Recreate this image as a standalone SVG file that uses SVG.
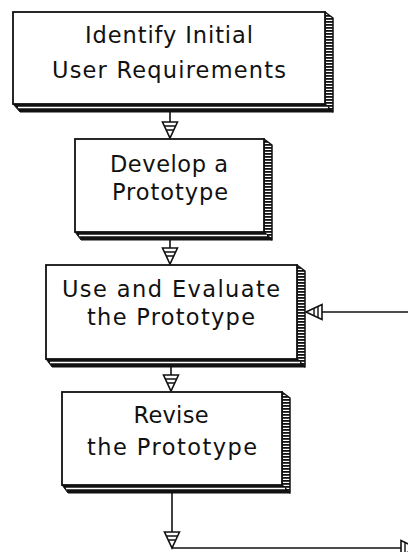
<svg xmlns="http://www.w3.org/2000/svg" width="408" height="552" viewBox="0 0 408 552">
  <defs>
    <!-- ladder hatching for the right-hand depth face of each box -->
    <pattern id="ladder" patternUnits="userSpaceOnUse" width="10" height="3">
      <rect x="0" y="0" width="10" height="1.8" fill="#111"/>
    </pattern>
    <!-- hatched arrowhead, drawn pointing right; tip at (16,7.5) -->
    <marker id="head" markerUnits="userSpaceOnUse" markerWidth="18" markerHeight="17" viewBox="-1 -1 18 17" refX="16" refY="7.5" orient="auto" overflow="visible">
      <path d="M0,0 L16,7.5 L0,15 Z" fill="#fff" stroke="#111" stroke-width="1.6" stroke-linejoin="miter"/>
      <path d="M4,2 V13 M8,4 V11" stroke="#111" stroke-width="1.4"/>
    </marker>
    <style>
      .face { fill: #fff; stroke: #111; stroke-width: 1.8; }
      .side { fill: url(#ladder); stroke: #111; stroke-width: 1.5; stroke-linejoin: round; }
      .base { fill: #111; stroke: #111; stroke-width: 1; stroke-linejoin: round; }
      .gap { stroke: #fff; stroke-width: 1.6; fill: none; }
      .label { font-family: "DejaVu Sans", "Liberation Sans", Arial, sans-serif; font-size: 22.5px; fill: #111; text-anchor: middle; }
      .wire { fill: none; stroke: #111; stroke-width: 1.6; marker-end: url(#head); }
    </style>
  </defs>

  <!-- connectors -->
  <g id="connectors">
    <path class="wire" d="M170,112 V138"/>
    <path class="wire" d="M170,240 V264"/>
    <path class="wire" d="M171,367 V391"/>
    <path class="wire" d="M172,493 V548"/>
    <path class="wire" d="M172,548 H417"/>
    <path class="wire" d="M408,312 H306"/>
  </g>

  <!-- Identify Initial User Requirements -->
  <g id="identify">
    <polygon class="side" points="325,12 333,18 333,112 325,104"/>
    <polygon class="base" points="13,104 325,104 333,112 20,112"/>
    <line class="gap" x1="18" y1="107.5" x2="328" y2="107.5"/>
    <rect class="face" x="13" y="12" width="312" height="92"/>
    <text class="label" x="169" y="43" textLength="168" lengthAdjust="spacing">Identify Initial</text>
    <text class="label" x="169" y="78" textLength="234" lengthAdjust="spacing">User Requirements</text>
  </g>

  <!-- Develop a Prototype -->
  <g id="develop">
    <polygon class="side" points="264,139 272,145 272,240 264,232"/>
    <polygon class="base" points="75,232 264,232 272,240 81,240"/>
    <line class="gap" x1="79" y1="235.5" x2="267" y2="235.5"/>
    <rect class="face" x="75" y="139" width="189" height="93"/>
    <text class="label" x="169" y="172" textLength="118" lengthAdjust="spacing">Develop a</text>
    <text class="label" x="170" y="200" textLength="116" lengthAdjust="spacing">Prototype</text>
  </g>

  <!-- Use and Evaluate the Prototype -->
  <g id="evaluate">
    <polygon class="side" points="297,265 305,271 305,367 297,359"/>
    <polygon class="base" points="46,359 297,359 305,367 52,367"/>
    <line class="gap" x1="50" y1="362.5" x2="300" y2="362.5"/>
    <rect class="face" x="46" y="265" width="251" height="94"/>
    <text class="label" x="171" y="297" textLength="218" lengthAdjust="spacing">Use and Evaluate</text>
    <text class="label" x="171" y="325" textLength="168" lengthAdjust="spacing">the Prototype</text>
  </g>

  <!-- Revise the Prototype -->
  <g id="revise">
    <polygon class="side" points="282,392 290,398 290,493 282,485"/>
    <polygon class="base" points="62,485 282,485 290,493 68,493"/>
    <line class="gap" x1="66" y1="488.5" x2="285" y2="488.5"/>
    <rect class="face" x="62" y="392" width="220" height="93"/>
    <text class="label" x="171" y="423" textLength="75" lengthAdjust="spacing">Revise</text>
    <text class="label" x="172" y="455" textLength="170" lengthAdjust="spacing">the Prototype</text>
  </g>
</svg>
